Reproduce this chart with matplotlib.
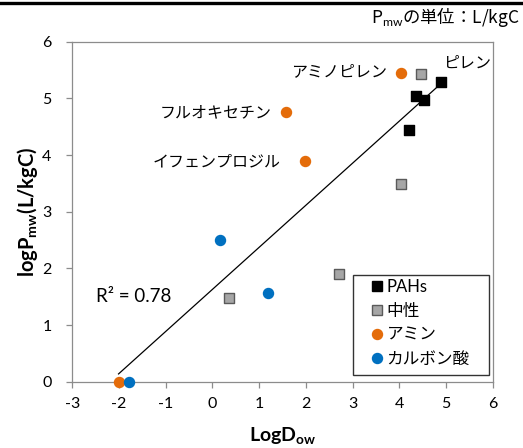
import numpy as np
import matplotlib
matplotlib.use("Agg")
import matplotlib.pyplot as plt
from matplotlib.lines import Line2D
from matplotlib.patches import Rectangle

plt.rcParams['font.family'] = ['Lato', 'Noto Sans CJK JP', 'DejaVu Sans']
plt.rcParams['mathtext.fontset'] = 'custom'
plt.rcParams['mathtext.rm'] = 'Lato'
plt.rcParams['mathtext.bf'] = 'Lato:bold'

# ---- data ----
pah_x = [4.90, 4.35, 4.53, 4.20]
pah_y = [5.28, 5.04, 4.97, 4.44]
neutral_x = [4.47, 4.04, 2.70, 0.36]
neutral_y = [5.43, 3.48, 1.90, 1.47]
amine_x = [4.03, 1.58, 1.98, -2.01]
amine_y = [5.45, 4.76, 3.90, 0.00]
acid_x = [-1.79, 0.16, 1.18]
acid_y = [0.00, 2.50, 1.56]
series_names = ['PAHs', '中性', 'アミン', 'カルボン酸']
point_labels = ['ピレン', 'アミノピレン', 'フルオキセチン', 'イフェンプロジル']
r2_text = 'R² = 0.78'
x_ticks = list(range(-3, 7))
y_ticks = list(range(0, 7))

W, H = 523, 448
fig = plt.figure(figsize=(W / 100, H / 100), dpi=100)
ax = fig.add_axes([72.3 / W, 1 - 381.7 / H, 420.4 / W, 340.0 / H])

c_orange = '#E46C0A'
c_blue = '#0070C0'
c_gray = '#A6A6A6'
c_gray_edge = '#5A5A5A'
ms = 52

# trendline (linear fit over all points)
all_x = np.array(pah_x + neutral_x + amine_x + acid_x)
all_y = np.array(pah_y + neutral_y + amine_y + acid_y)
k, b = np.polyfit(all_x, all_y, 1)
xx = np.array([all_x.min(), all_x.max()])
ax.plot(xx, k * xx + b, color='black', lw=0.9, zorder=2)

ax.scatter(pah_x, pah_y, marker='s', s=ms, color='black', zorder=3, clip_on=False)
ax.scatter(neutral_x, neutral_y, marker='s', s=ms, facecolor=c_gray,
           edgecolor=c_gray_edge, linewidth=1.0, zorder=3, clip_on=False)
ax.scatter(amine_x, amine_y, marker='o', s=ms, color=c_orange, zorder=4, clip_on=False)
ax.scatter(acid_x, acid_y, marker='o', s=ms, color=c_blue, zorder=4, clip_on=False)

ax.set_xlim(-3, 6)
ax.set_ylim(0, 6)
ax.set_xticks(x_ticks)
ax.set_yticks(y_ticks)
ax.set_xticklabels([str(v) for v in x_ticks])
ax.set_yticklabels([str(v) for v in y_ticks])
for sp in ax.spines.values():
    sp.set_color('#8C8C8C')
    sp.set_linewidth(0.9)
ax.tick_params(axis='both', colors='#8C8C8C', labelcolor='black', labelsize=11.5,
               length=4, width=0.9)
ax.tick_params(axis='y', pad=11)
ax.tick_params(axis='x', pad=7)

# point labels
lab_fs = 11.5
ax.text(5.44, 5.62, point_labels[0], fontsize=lab_fs, ha='center', va='center',
        family='Noto Sans CJK JP')
ax.text(3.74, 5.47, point_labels[1], fontsize=lab_fs, ha='right', va='center',
        family='Noto Sans CJK JP')
ax.text(1.27, 4.74, point_labels[2], fontsize=lab_fs, ha='right', va='center',
        family='Noto Sans CJK JP')
ax.text(1.46, 3.88, point_labels[3], fontsize=lab_fs, ha='right', va='center',
        family='Noto Sans CJK JP')
ax.text(-2.49, 1.50, r2_text, fontsize=13.5, ha='left', va='center',
        family=['Lato', 'DejaVu Sans'])

# legend frame
x0 = (352.7 - 72.3) / 420.4
y0 = (381.7 - 375.0) / 340.0
x1 = (489.3 - 72.3) / 420.4
y1 = (381.7 - 275.0) / 340.0
ax.add_patch(Rectangle((x0, y0), x1 - x0, y1 - y0, transform=ax.transAxes,
                       facecolor='white', edgecolor='#333333', lw=1.0, zorder=5))
handles = [
    Line2D([], [], ls='none', marker='s', markersize=6.5, color='black'),
    Line2D([], [], ls='none', marker='s', markersize=7.2, markerfacecolor=c_gray,
           markeredgecolor=c_gray_edge, markeredgewidth=1.0),
    Line2D([], [], ls='none', marker='o', markersize=7.2, color=c_orange),
    Line2D([], [], ls='none', marker='o', markersize=7.2, color=c_blue),
]
leg = ax.legend(handles, series_names, loc='upper left',
                bbox_to_anchor=((370 - 72.3) / 420.4, (381.7 - 279.0) / 340.0),
                frameon=False, borderaxespad=0, borderpad=0.0,
                handlelength=0.8, handletextpad=0.2, labelspacing=0.48,
                prop={'family': ['Lato', 'Noto Sans CJK JP'], 'size': 12})
leg.set_zorder(6)

# axis titles
fig.text(282.5 / W, 1 - 441 / H, r'$\mathbf{LogD_{ow}}$', fontsize=14,
         ha='center', va='baseline')
fig.text(27 / W, 1 - 211.7 / H, r'$\mathbf{logP_{mw}(L/kgC)}$', fontsize=14.5,
         ha='center', va='center', rotation=90)

# unit note top right
fig.text(520 / W, 1 - 17 / H, r'P$_{\mathrm{mw}}$の単位：L/kgC', fontsize=12.5,
         ha='right', va='center', family='Noto Sans CJK JP')

# thick bar at the top
fig.add_artist(Line2D([0, 1], [1 - 3.5 / H, 1 - 3.5 / H], transform=fig.transFigure,
                      color='black', lw=2.4))

fig.savefig('out.png', dpi=100)
